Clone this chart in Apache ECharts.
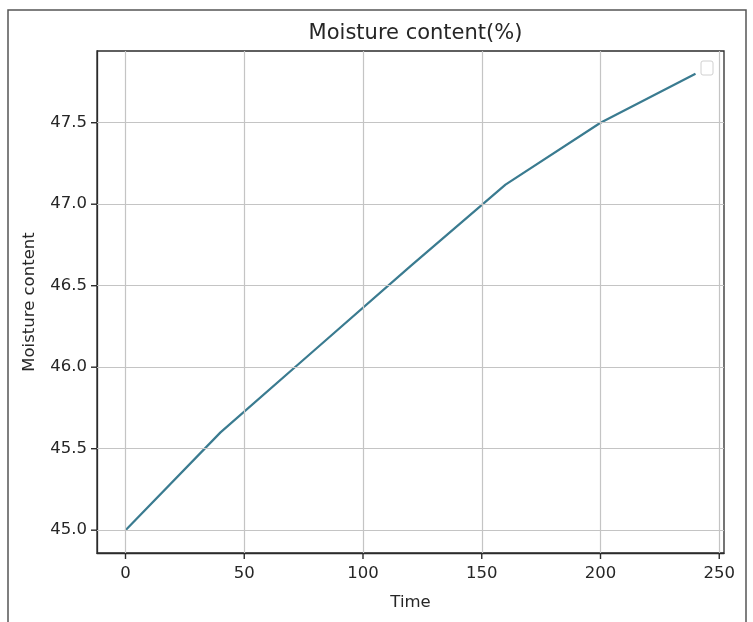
<!DOCTYPE html>
<html>
<head>
<meta charset="utf-8">
<script src="https://cdn.jsdelivr.net/npm/echarts@6/dist/echarts.min.js"></script>
<style>
html,body{margin:0;padding:0;background:#fff;}
#chart{width:753px;height:622px;}
</style>
</head>
<body>
<div id="chart"></div>
<script>
// Data
const timeValues = [0, 40, 80, 120, 160, 200, 240];
const moistureValues = [45.0, 45.6, 46.11, 46.62, 47.12, 47.5, 47.8];
const xTickValues = [0, 50, 100, 150, 200, 250];
const yTickValues = [45.0, 45.5, 46.0, 46.5, 47.0, 47.5];
const titleText = 'Moisture content(%)';
const xName = 'Time';
const yName = 'Moisture content';

const chart = echarts.init(document.getElementById('chart'), null, {renderer: 'canvas'});
const font = 'DejaVu Sans';
const textColor = '#262626';
const frameColor = '#2b2b2b';
const gridColor = '#c4c4c4';
const X_MIN = -12, X_MAX = 252, Y_MIN = 44.86, Y_MAX = 47.94;

const seriesData = timeValues.map((t, i) => [t, moistureValues[i]]);

const decor = [
  {
    type: 'polyline',
    silent: true,
    shape: {points: [[8, 622], [8, 10], [746, 10], [746, 622]]},
    style: {stroke: '#555', lineWidth: 1.5, fill: null}
  },
  {
    type: 'rect',
    silent: true,
    shape: {x: 701, y: 61, width: 12, height: 14, r: 2},
    style: {stroke: '#d0d0d0', lineWidth: 1, fill: '#fff'}
  }
];

const option = {
  backgroundColor: '#ffffff',
  animation: false,
  title: {
    text: titleText,
    left: 410.5,
    textAlign: 'center',
    top: 18,
    textStyle: {fontFamily: font, fontSize: 21, fontWeight: 'normal', color: textColor}
  },
  grid: {
    left: 97, top: 51, right: 29, bottom: 69,
    show: true, borderColor: frameColor, borderWidth: 1.3, backgroundColor: 'transparent'
  },
  xAxis: {
    type: 'value',
    min: X_MIN, max: X_MAX,
    name: xName,
    nameLocation: 'middle',
    nameGap: 41,
    nameTextStyle: {fontFamily: font, fontSize: 16.5, color: textColor},
    axisLine: {show: true, onZero: false, lineStyle: {color: frameColor, width: 1.3}},
    splitLine: {show: false},
    axisTick: {show: false},
    axisLabel: {show: true, margin: 12, customValues: xTickValues, fontFamily: font, fontSize: 16.5, color: textColor,
      formatter: v => String(Math.round(v))}
  },
  yAxis: {
    type: 'value',
    min: Y_MIN, max: Y_MAX,
    name: yName,
    nameLocation: 'middle',
    nameGap: 59,
    nameRotate: 90,
    nameTextStyle: {fontFamily: font, fontSize: 16.5, color: textColor},
    axisLine: {show: true, onZero: false, lineStyle: {color: frameColor, width: 1.3}},
    splitLine: {show: false},
    axisTick: {show: false},
    axisLabel: {show: true, margin: 10, customValues: yTickValues, fontFamily: font, fontSize: 16.5, color: textColor,
      formatter: v => v.toFixed(1)}
  },
  series: [
    {
      type: 'line',
      name: 'gridlines',
      data: [],
      silent: true,
      z: 1,
      markLine: {
        silent: true,
        symbol: ['none', 'none'],
        label: {show: false},
        lineStyle: {color: gridColor, width: 1.2, type: 'solid'},
        emphasis: {disabled: true},
        data: xTickValues.map(v => ({xAxis: v})).concat(yTickValues.map(v => ({yAxis: v})))
      }
    },
    {
      type: 'line',
      data: seriesData,
      z: 3,
      showSymbol: false,
      symbol: 'none',
      smooth: false,
      lineStyle: {color: '#3a7b90', width: 2.2},
      itemStyle: {color: '#3a7b90'}
    }
  ],
  graphic: decor
};
chart.setOption(option);

// Tick marks placed through the chart's own axis scales
const tickLen = 6;
const tickStyle = {stroke: frameColor, lineWidth: 1.4};
const ticks = [];
xTickValues.forEach(v => {
  const p = chart.convertToPixel({gridIndex: 0}, [v, Y_MIN]);
  ticks.push({type: 'line', silent: true, shape: {x1: p[0], y1: p[1], x2: p[0], y2: p[1] + tickLen}, style: tickStyle});
});
yTickValues.forEach(v => {
  const p = chart.convertToPixel({gridIndex: 0}, [X_MIN, v]);
  ticks.push({type: 'line', silent: true, shape: {x1: p[0], y1: p[1], x2: p[0] - tickLen, y2: p[1]}, style: tickStyle});
});
chart.setOption({graphic: decor.concat(ticks)});
</script>
</body>
</html>
